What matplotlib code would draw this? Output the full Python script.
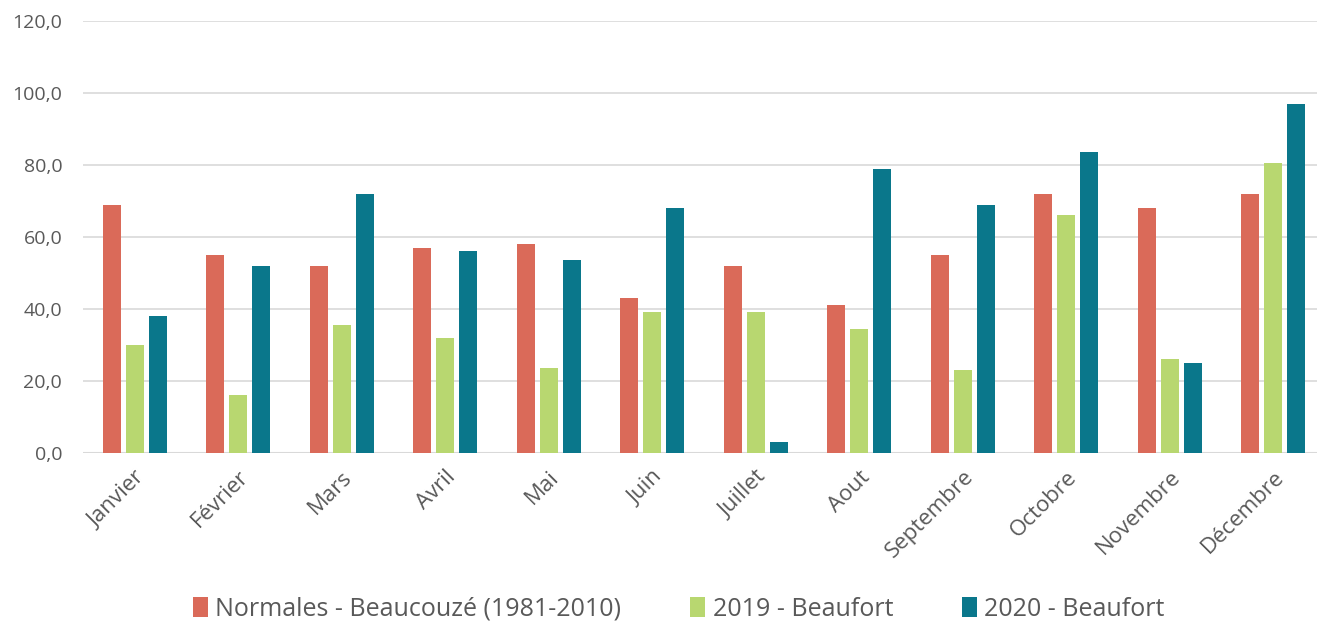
import matplotlib.pyplot as plt
import numpy as np

plt.rcParams["font.family"] = ["Open Sans", "DejaVu Sans"]

months = ["Janvier", "Février", "Mars", "Avril", "Mai", "Juin", "Juillet",
          "Aout", "Septembre", "Octobre", "Novembre", "Décembre"]
normales = [69, 55, 52, 57, 58, 43, 52, 41, 55, 72, 68, 72]
y2019 = [30, 16, 35.5, 32, 23.5, 39, 39, 34.5, 23, 66, 26, 80.5]
y2020 = [38, 52, 72, 56.2, 53.5, 68, 3, 79, 69, 83.5, 25, 97]

labels = ["Normales - Beaucouzé (1981-2010)", "2019 - Beaufort", "2020 - Beaufort"]
colors = ["#DA6A59", "#B8D770", "#0A778B"]

fig = plt.figure(figsize=(13.17, 6.21), dpi=100)
ax = fig.add_axes([0.063, 0.271, 0.943, 0.695])

x = np.arange(len(months))
w = 0.174
step = 0.222
for k, (vals, lab, c) in enumerate(zip([normales, y2019, y2020], labels, colors)):
    ax.bar(x + (k - 1) * step, vals, width=w, color=c, label=lab, zorder=3)

ax.set_xlim(-0.5, len(months) - 0.5)
ax.set_ylim(0, 120)
ax.set_yticks(np.arange(0, 121, 20))
ax.set_yticklabels([f"{v},0" for v in range(0, 121, 20)], fontsize=14, color="#595959")
ax.set_xticks(x)
ax.set_xticklabels(months, rotation=45, ha="right", rotation_mode="anchor",
                   fontsize=16, color="#595959")
ax.tick_params(axis="x", length=0, pad=10)
ax.tick_params(axis="y", length=0, pad=15)
ax.grid(axis="y", color="#D9D9D9", linewidth=1.2, zorder=0)
for s in ax.spines.values():
    s.set_visible(False)
ax.axhline(0, color="#D9D9D9", linewidth=1.5, zorder=2)

fig.legend(loc="center", bbox_to_anchor=(0.5155, 0.019), ncol=3, frameon=False,
           fontsize=18, handlelength=0.6, handleheight=0.9, handletextpad=0.3,
           columnspacing=2.75, labelcolor="#595959")

fig.savefig("out.png", dpi=100, facecolor="white")
